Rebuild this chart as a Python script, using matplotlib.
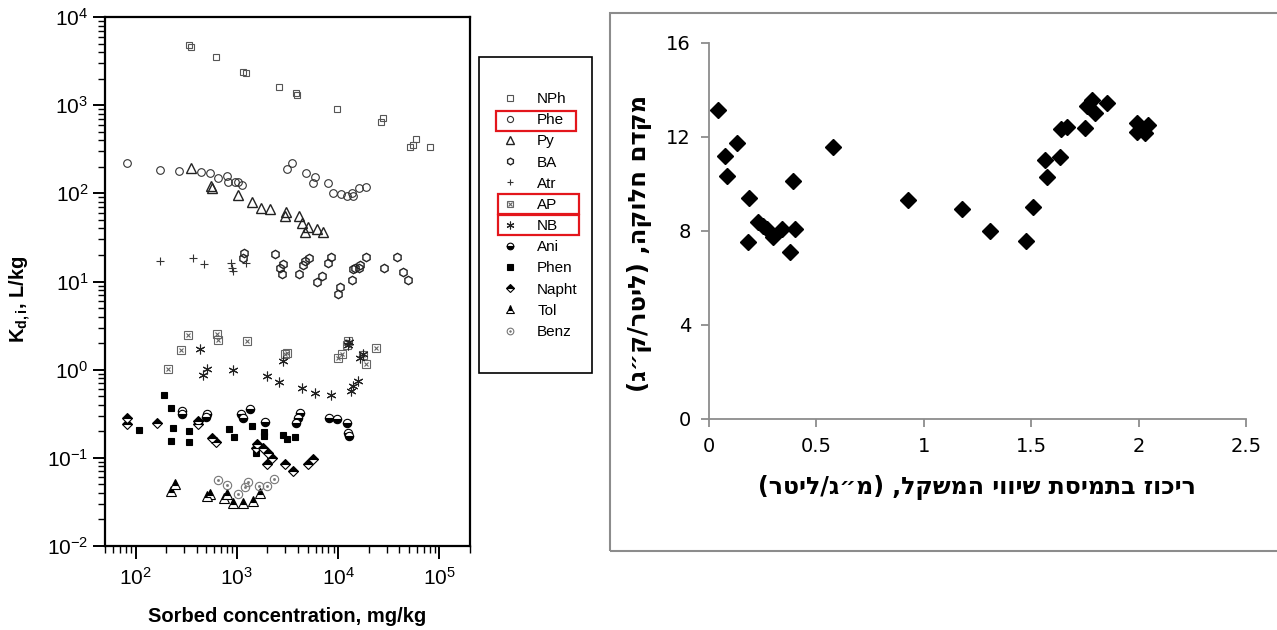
import numpy as np
import matplotlib
matplotlib.use('Agg')
import matplotlib.pyplot as plt
from matplotlib.lines import Line2D
from matplotlib.patches import Rectangle
from matplotlib.legend_handler import HandlerTuple
from matplotlib.ticker import NullFormatter

plt.rcParams['font.family'] = ['Liberation Sans', 'DejaVu Sans']
plt.rcParams['mathtext.fontset'] = 'custom'
plt.rcParams['mathtext.rm'] = 'Liberation Sans'
plt.rcParams['mathtext.bf'] = 'Liberation Sans:bold'
plt.rcParams['mathtext.it'] = 'Liberation Sans:italic'

# --- sorption data, Kd (L/kg) vs sorbed concentration (mg/kg) ---
nph_x = [340, 356, 625, 1153, 1233, 2606, 3829, 3917, 9680, 26240, 27470, 50600, 54200, 59300, 81500]
nph_y = [4810, 4560, 3510, 2370, 2310, 1600, 1370, 1300, 900, 641, 711, 333, 351, 411, 333]

phe_x = [83, 176, 271, 446, 546, 654, 804, 821, 962, 1030, 1128, 3126, 3500, 4800, 5890, 5620,
         7900, 8860, 10620, 12170, 13620, 13930, 15950, 18680]
phe_y = [219, 182, 178, 173, 169, 148, 156, 133, 133, 133, 123, 187, 219, 169, 152, 130,
         130, 100, 97, 93, 100, 93, 114, 117]

py_x = [356, 558, 571, 1030, 1414, 1733, 2124, 3054, 2986, 4100, 4387, 5025, 4696, 6166, 7066]
py_y = [192, 120, 114, 95, 79, 69, 66, 61, 55, 55, 46, 41, 36, 39, 36]

ba_x = [1180, 1153, 2384, 2670, 2853, 2789, 4100, 4490, 4696, 5140, 6166, 6900, 7910, 8460,
        9910, 10370, 13620, 13930, 14560, 15950, 16300, 18680, 28050, 37650, 43150, 48350]
ba_y = [20.8, 18.7, 20.3, 14.1, 16.0, 12.3, 12.3, 15.2, 16.9, 18.7, 9.75, 11.4, 16.4, 19.2,
        7.3, 8.55, 10.5, 13.7, 14.4, 14.4, 15.2, 19.2, 14.1, 19.2, 12.7, 10.5]

atr_x = [176, 372, 477, 879, 920, 900, 1233]
atr_y = [17.3, 18.7, 16.0, 16.4, 13.0, 14.4, 16.4]

ap_x = [211, 283, 332, 640, 655, 1262, 2986, 3126, 9910, 10850, 12170, 12430, 18680, 23430, 17460]
ap_y = [1.03, 1.69, 2.50, 2.57, 2.19, 2.14, 1.52, 1.56, 1.37, 1.52, 1.92, 2.14, 1.17, 1.78, 1.48]

nb_x = [435, 466, 511, 920, 1987, 2606, 4387, 5890, 8460, 13310, 13930, 15600, 16300, 17460,
        2853, 12430, 12800]
nb_y = [1.73, 0.877, 1.03, 1.0, 0.855, 0.73, 0.62, 0.55, 0.51, 0.58, 0.66, 0.75, 1.37, 1.52,
        1.26, 1.9, 2.05]

ani_x = [290, 290, 511, 500, 1102, 1153, 1352, 1897, 4190, 4008, 3829, 8090, 9680, 12170, 12430, 12700]
ani_y = [0.342, 0.316, 0.316, 0.292, 0.316, 0.285, 0.360, 0.256, 0.324, 0.285, 0.25, 0.285,
         0.277, 0.25, 0.192, 0.178]

phen_x = [193, 226, 109, 237, 226, 340, 340, 840, 940, 1413, 1853, 1853, 1549, 2853, 3126, 3740]
phen_y = [0.52, 0.37, 0.208, 0.219, 0.156, 0.203, 0.152, 0.214, 0.173, 0.231, 0.197, 0.178,
          0.114, 0.182, 0.164, 0.173]

napht_x = [83, 83, 164, 416, 416, 571, 625, 1585, 1549, 1815, 2032, 1987, 2224, 2986, 3580, 5025, 5620]
napht_y = [0.285, 0.243, 0.25, 0.26, 0.24, 0.167, 0.152, 0.144, 0.13, 0.13, 0.114, 0.0855, 0.1,
           0.0855, 0.071, 0.0855, 0.0975]

tol_x = [247, 226, 546, 511, 804, 750, 920, 1153, 1445, 1694]
tol_y = [0.0507, 0.0422, 0.039, 0.037, 0.039, 0.0351, 0.0308, 0.0308, 0.0325, 0.04]

benz_x = [655, 804, 1030, 1207, 1292, 1655, 1987, 2328]
benz_y = [0.0562, 0.0493, 0.039, 0.0468, 0.0533, 0.048, 0.048, 0.0577]

# --- partition coefficient vs equilibrium concentration ---
conc = [0.043, 0.074, 0.129, 0.085, 0.188, 0.180, 0.230, 0.253, 0.269, 0.299, 0.338, 0.400,
        0.377, 0.392, 0.579, 0.928, 1.179, 1.308, 1.474, 1.507, 1.572, 1.564, 1.634, 1.637,
        1.668, 1.750, 1.758, 1.784, 1.797, 1.851, 1.991, 1.991, 2.030, 2.045]
kd = [13.15, 11.19, 11.76, 10.34, 9.42, 7.54, 8.40, 8.21, 8.07, 7.76, 8.07, 8.07,
      7.12, 10.13, 11.59, 9.32, 8.92, 8.0, 7.59, 9.03, 10.31, 11.02, 11.16, 12.33,
      12.44, 12.40, 13.32, 13.57, 13.03, 13.43, 12.58, 12.23, 12.16, 12.51]

W, H = 1277, 630


def fx(px):
    return px / W


def fy(py):
    return 1 - py / H


def rtl(s):
    # matplotlib lays text out left to right, so flip Hebrew into visual order
    swap = {'(': ')', ')': '('}
    return ''.join(swap.get(c, c) for c in reversed(s))


fig = plt.figure(figsize=(W / 100, H / 100), dpi=100)

# ---------------- left panel ----------------
ax = fig.add_axes([fx(105), fy(546), fx(470 - 105), (546 - 17) / H])
ax.set_xscale('log')
ax.set_yscale('log')
ax.set_xlim(50, 2e5)
ax.set_ylim(1e-2, 1e4)
ax.xaxis.set_minor_formatter(NullFormatter())
ax.yaxis.set_minor_formatter(NullFormatter())

lw = 0.8
styles = [
    ('NPh', nph_x, nph_y, [dict(marker='s', ms=5, mfc='none', mec='#555555', mew=lw)]),
    ('Phe', phe_x, phe_y, [dict(marker='o', ms=5.5, mfc='none', mec='#333333', mew=lw)]),
    ('Py', py_x, py_y, [dict(marker='^', ms=6.5, mfc='none', mec='#222222', mew=1.0)]),
    ('BA', ba_x, ba_y, [dict(marker='h', ms=6, mfc='none', mec='#222222', mew=1.0)]),
    ('Atr', atr_x, atr_y, [dict(marker='+', ms=6, mec='#333333', mew=lw)]),
    ('AP', ap_x, ap_y, [dict(marker='s', ms=5.5, mfc='none', mec='#666666', mew=lw),
                        dict(marker='x', ms=3.5, mec='#666666', mew=lw)]),
    ('NB', nb_x, nb_y, [dict(marker=(6, 2, 0), ms=7, mec='#222222', mew=lw)]),
    ('Ani', ani_x, ani_y, [dict(marker='o', ms=6, fillstyle='bottom', mfc='black',
                                mfcalt='white', mec='black', mew=lw)]),
    ('Phen', phen_x, phen_y, [dict(marker='s', ms=5, mfc='black', mec='black', mew=lw)]),
    ('Napht', napht_x, napht_y, [dict(marker='D', ms=5, fillstyle='top', mfc='black',
                                      mfcalt='white', mec='black', mew=lw)]),
    ('Tol', tol_x, tol_y, [dict(marker='^', ms=6.5, fillstyle='top', mfc='black',
                                mfcalt='white', mec='black', mew=lw)]),
    ('Benz', benz_x, benz_y, [dict(marker='o', ms=6, mfc='none', mec='#777777', mew=lw),
                              dict(marker='o', ms=1.5, mfc='#777777', mec='#777777', mew=0.5)]),
]

handles, labels = [], []
for name, xs, ys, layers in styles:
    parts = []
    for st in layers:
        ax.plot(xs, ys, ls='none', **st)
        parts.append(Line2D([], [], ls='none', **{**st, 'ms': st['ms'] * 0.8}))
    handles.append(tuple(parts))
    labels.append(name)

for side in ['left', 'bottom', 'top', 'right']:
    ax.spines[side].set_linewidth(1.6)
ax.tick_params(which='major', direction='out', length=9, width=1.4, labelsize=15,
               top=False, right=False)
ax.tick_params(which='minor', direction='out', length=5, width=1.0, top=False, right=False)
ax.tick_params(axis='y', pad=3)
ax.tick_params(axis='x', pad=6)

fig.text(fx(20), fy(299), r'$\mathbf{K_{d,i}}$, L/kg', rotation=90, ha='center',
         va='center', fontsize=14.5, fontweight='bold')
fig.text(fx(287), fy(616), 'Sorbed concentration, mg/kg', ha='center', va='center',
         fontsize=14.5, fontweight='bold')

# legend frame and entries
fig.patches.append(Rectangle((fx(479), fy(373)), fx(592 - 479), (373 - 57) / H,
                             transform=fig.transFigure, fill=False, ec='black', lw=1.2))
fig.legend(handles, labels, loc='upper left', bbox_to_anchor=(fx(502), fy(92)),
           frameon=False, fontsize=11, handlelength=1.0, handletextpad=1.3,
           labelspacing=0.47, borderpad=0, borderaxespad=0,
           handler_map={tuple: HandlerTuple(ndivide=1)})

for top, left, right in [(111, 496, 576), (194, 498, 579), (215, 498, 579)]:
    fig.patches.append(Rectangle((fx(left), fy(top + 20)), fx(right - left), 20 / H,
                                 transform=fig.transFigure, fill=False, ec='#e3161c', lw=1.6))

# ---------------- right panel ----------------
fig.patches.append(Rectangle((fx(610), fy(551)), 0.6, (551 - 13) / H,
                             transform=fig.transFigure, fill=False, ec='#8c8c8c', lw=1.5))

ax2 = fig.add_axes([fx(709), fy(419), fx(1246 - 709), (419 - 43) / H])
ax2.plot(conc, kd, ls='none', marker='D', ms=8.5, color='black')
ax2.set_xlim(0, 2.5)
ax2.set_ylim(0, 16)
ax2.set_xticks([0, 0.5, 1, 1.5, 2, 2.5])
ax2.set_xticklabels(['0', '0.5', '1', '1.5', '2', '2.5'])
ax2.set_yticks([0, 4, 8, 12, 16])
for side in ['top', 'right']:
    ax2.spines[side].set_visible(False)
for side in ['left', 'bottom']:
    ax2.spines[side].set_color('#8c8c8c')
    ax2.spines[side].set_linewidth(1.3)
ax2.tick_params(direction='out', length=6, width=1.3, color='#8c8c8c', labelsize=14,
                pad=7)
for lab in ax2.get_xticklabels() + ax2.get_yticklabels():
    lab.set_family(['DejaVu Sans'])

heb = ['DejaVu Sans', 'Liberation Sans']
fig.text(fx(977), fy(487), rtl('ריכוז בתמיסת שיווי המשקל, (מ״ג/ליטר)'), ha='center',
         va='center', fontsize=17, fontweight='bold', family=heb)
fig.text(fx(640), fy(243), rtl('מקדם חלוקה, (ליטר/ק״ג)'), rotation=90, ha='center',
         va='center', fontsize=17.5, fontweight='bold', family=heb)

fig.savefig('out.png', dpi=100)
